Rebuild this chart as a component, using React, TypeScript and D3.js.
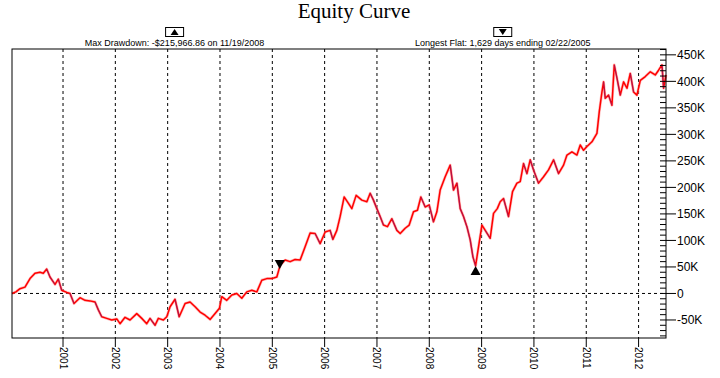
import React from "react";
import * as d3 from "d3";

// ---- data (decimal year, equity in $K) ----
const years: number[] = [
  2000.025, 2000.1, 2000.178, 2000.273, 2000.369, 2000.465, 2000.56, 2000.623, 2000.688, 2000.751,
  2000.847, 2000.91, 2000.975, 2001.071, 2001.134, 2001.21, 2001.325, 2001.421, 2001.516, 2001.612,
  2001.675, 2001.74, 2001.836, 2001.931, 2002.027, 2002.09, 2002.185, 2002.281, 2002.409, 2002.505,
  2002.6, 2002.663, 2002.759, 2002.822, 2002.918, 2002.983, 2003.046, 2003.141, 2003.22, 2003.333,
  2003.428, 2003.524, 2003.62, 2003.715, 2003.811, 2003.906, 2003.989, 2004.034, 2004.13, 2004.226,
  2004.321, 2004.417, 2004.512, 2004.608, 2004.704, 2004.799, 2004.895, 2004.99, 2005.086, 2005.149,
  2005.245, 2005.34, 2005.436, 2005.532, 2005.627, 2005.723, 2005.818, 2005.914, 2006.01, 2006.105,
  2006.157, 2006.233, 2006.296, 2006.373, 2006.455, 2006.52, 2006.602, 2006.711, 2006.807, 2006.87,
  2006.933, 2006.998, 2007.061, 2007.124, 2007.201, 2007.285, 2007.38, 2007.444, 2007.539, 2007.616,
  2007.698, 2007.774, 2007.839, 2007.922, 2007.998, 2008.08, 2008.145, 2008.208, 2008.304, 2008.4,
  2008.463, 2008.528, 2008.591, 2008.654, 2008.719, 2008.782, 2008.834, 2008.885, 2008.941, 2009.006,
  2009.069, 2009.164, 2009.228, 2009.3, 2009.355, 2009.419, 2009.514, 2009.591, 2009.675, 2009.738,
  2009.801, 2009.866, 2009.929, 2009.992, 2010.088, 2010.184, 2010.279, 2010.375, 2010.47, 2010.566,
  2010.631, 2010.726, 2010.822, 2010.885, 2010.948, 2011.013, 2011.109, 2011.204, 2011.249, 2011.3,
  2011.331, 2011.363, 2011.426, 2011.491, 2011.535, 2011.587, 2011.65, 2011.713, 2011.778, 2011.841,
  2011.904, 2011.969, 2012.033, 2012.128, 2012.224, 2012.319, 2012.382, 2012.447, 2012.478, 2012.524,
];
const equityK: number[] = [
  0, 3, 9, 12, 28, 38, 40, 38, 46, 31,
  17, 27, 6, 2, 0, -19, -8, -13, -14, -16,
  -31, -44, -47, -50, -48, -57, -45, -50, -38, -47,
  -57, -47, -60, -47, -50, -44, -25, -11, -44, -19,
  -16, -25, -35, -41, -49, -38, -28, -6, -13, -3,
  0, -9, 3, 6, 3, 25, 28, 28, 31, 53,
  63, 60, 64, 63, 88, 114, 113, 94, 116, 119,
  102, 119, 145, 182, 170, 160, 185, 176, 173, 189,
  176, 160, 145, 129, 126, 141, 119, 113, 123, 129,
  154, 157, 182, 163, 167, 135, 154, 195, 220, 242,
  195, 208, 160, 145, 126, 101, 69, 52, 88, 129,
  119, 104, 151, 160, 173, 179, 145, 192, 208, 211,
  245, 226, 252, 233, 208, 220, 233, 252, 226, 242,
  261, 267, 261, 280, 270, 277, 286, 302, 343, 380,
  399, 368, 374, 355, 431, 406, 374, 399, 387, 415,
  380, 374, 402, 409, 418, 412, 421, 431, 387, 412,
];

const yearTicks: number[] = [2001, 2002, 2003, 2004, 2005, 2006, 2007, 2008, 2009, 2010, 2011, 2012];
const valueTicksK: number[] = [-50, 0, 50, 100, 150, 200, 250, 300, 350, 400, 450];

const markerYears: number[] = [2005.142, 2008.885];
const markerValuesK: number[] = [46, 52];
const markerDirs: string[] = ["down", "up"];
const annotationTexts: string[] = [
  "Max Drawdown: -$215,966.86 on 11/19/2008",
  "Longest Flat: 1,629 days ending 02/22/2005",
];
const annotationDirs: string[] = ["up", "down"];

const title = "Equity Curve";

export default function App() {
  const W = 720, H = 378;
  const L = 12, R = 666, T = 49, B = 338;
  const x = d3.scaleLinear().domain([2000.025, 2012.524]).range([L, R]);
  const y = d3.scaleLinear().domain([-84, 461]).range([B, T]);

  const pts = years.map((yr, i) => [yr, equityK[i]] as [number, number]);
  const line = d3.line<[number, number]>().x((d) => x(d[0])).y((d) => y(d[1]));

  // declining segments drawn in blue on top
  const downSegs: string[] = [];
  for (let i = 1; i < pts.length; i++) {
    if (pts[i][1] < pts[i - 1][1] - 12) downSegs.push(line([pts[i - 1], pts[i]]) || "");
  }

  const minorTicks = d3.range(-80, 461, 10).filter((v) => v % 50 !== 0);
  const font = "'Liberation Sans', Arial, sans-serif";

  const tri = (cx: number, tipY: number, dir: string) => {
    const w = 5, h = 9;
    return dir === "down"
      ? `M${cx - w},${tipY - h}L${cx + w},${tipY - h}L${cx},${tipY}Z`
      : `M${cx - w},${tipY + h}L${cx + w},${tipY + h}L${cx},${tipY}Z`;
  };

  const annCenters = [x(markerYears[1]) - 301, x(markerYears[0]) + 223];

  return (
    <svg width={W} height={H} style={{ position: "absolute", left: 0, top: 0, background: "#fff" }}>
      <rect x={0} y={0} width={W} height={H} fill="#fff" />
      <text x={354} y={18} textAnchor="middle" fontFamily="'Liberation Serif', 'Times New Roman', serif" fontSize={21}>
        {title}
      </text>

      {annotationTexts.map((t, i) => {
        const cx = annCenters[i];
        return (
          <g key={t}>
            <rect x={cx - 9} y={27.5} width={18} height={9} fill="#fff" stroke="#000" strokeWidth={1} />
            <path d={annotationDirs[i] === "up"
              ? `M${cx - 4},35L${cx + 4},35L${cx},29Z`
              : `M${cx - 4},29L${cx + 4},29L${cx},35Z`} fill="#000" />
            <text x={cx} y={46} textAnchor="middle" fontFamily={font} fontSize={9} fill="#000">{t}</text>
          </g>
        );
      })}

      {/* grid */}
      {yearTicks.map((yr) => (
        <line key={yr} x1={x(yr)} x2={x(yr)} y1={T} y2={B} stroke="#000" strokeWidth={1} strokeDasharray="3,3" />
      ))}
      <line x1={L} x2={R} y1={y(0)} y2={y(0)} stroke="#000" strokeWidth={1} strokeDasharray="3,3" />

      {/* curve */}
      <path d={line(pts) || ""} fill="none" stroke="#ff9090" strokeWidth={2.8} strokeLinejoin="round" opacity={0.6} />
      <path d={line(pts) || ""} fill="none" stroke="#ff0000" strokeWidth={1.5} strokeLinejoin="round" />
      {downSegs.map((d, i) => (
        <path key={i} d={d} fill="none" stroke="#4b2aa8" strokeWidth={0.8} opacity={0.6} />
      ))}

      {/* markers */}
      {markerYears.map((yr, i) => (
        <path key={yr} d={tri(x(yr), y(markerValuesK[i]), markerDirs[i])} fill="#000" />
      ))}

      {/* frame */}
      <rect x={L} y={T} width={R - L} height={B - T} fill="none" stroke="#000" strokeWidth={1} />

      {/* right axis */}
      {minorTicks.map((v) => (
        <line key={v} x1={R - 6} x2={R} y1={y(v)} y2={y(v)} stroke="#000" strokeWidth={1} />
      ))}
      {valueTicksK.map((v) => (
        <g key={v}>
          <line x1={R - 6} x2={R + 10} y1={y(v)} y2={y(v)} stroke="#000" strokeWidth={1} />
          <text x={R + 11} y={y(v)} dy="0.35em" fontFamily={font} fontSize={12} fill="#000">
            {v === 0 ? "0" : `${v}K`}
          </text>
        </g>
      ))}

      {/* bottom axis */}
      {yearTicks.map((yr) => (
        <g key={yr}>
          <line x1={x(yr)} x2={x(yr)} y1={B} y2={B + 9} stroke="#000" strokeWidth={1} />
          <text transform={`translate(${x(yr)},${B + 9}) rotate(90)`} dy="0.35em" fontFamily={font} fontSize={10} fill="#000">
            {yr}
          </text>
        </g>
      ))}
    </svg>
  );
}
